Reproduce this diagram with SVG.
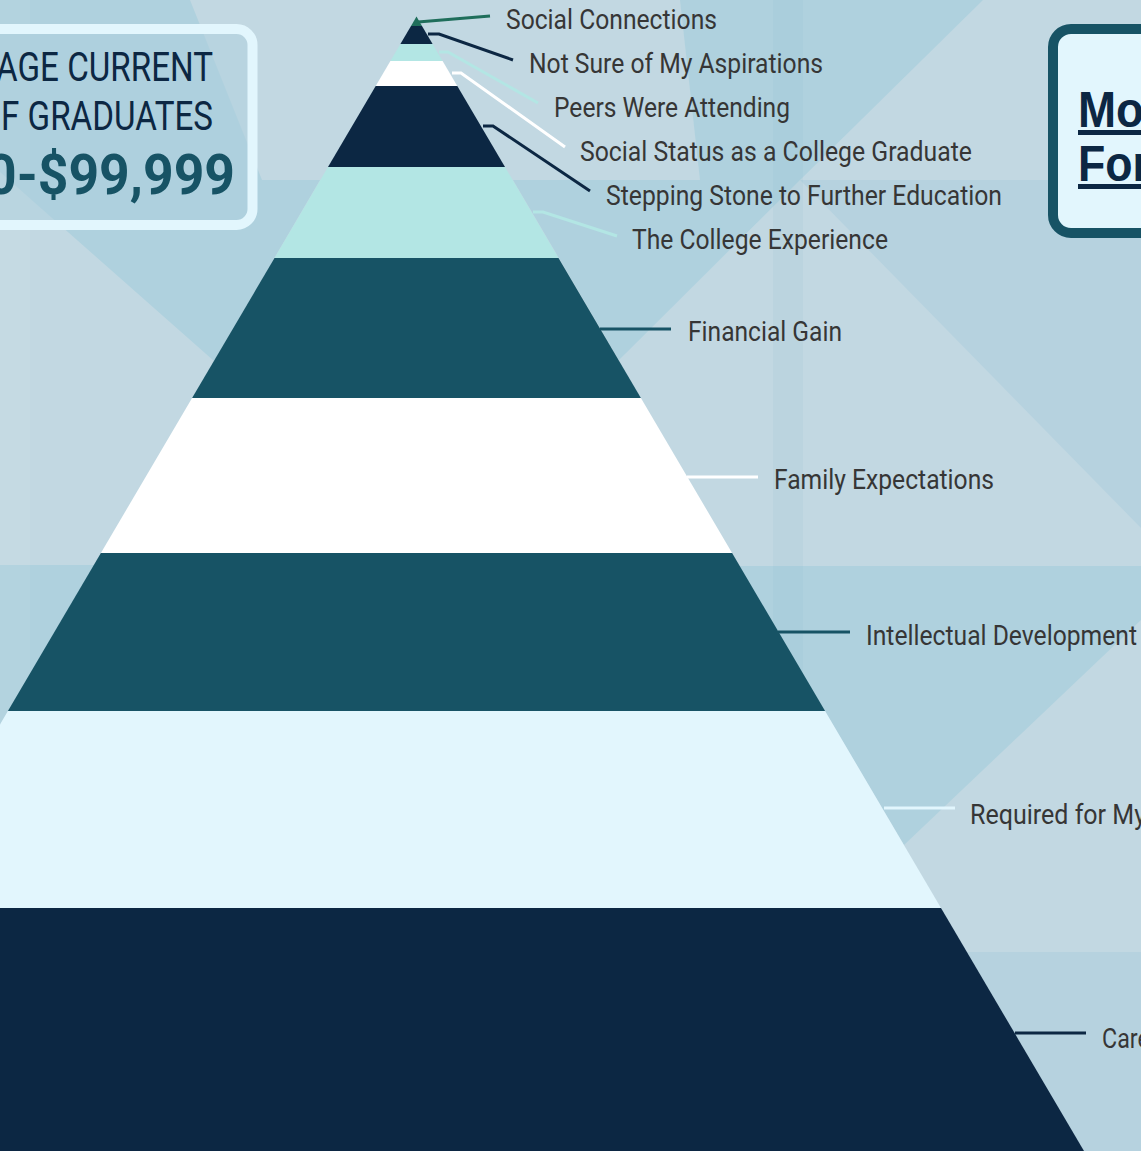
<svg xmlns="http://www.w3.org/2000/svg" width="1141" height="1151" viewBox="0 0 1141 1151">
  <style>
    .lbl { font-family: Roboto, "Liberation Sans", sans-serif; font-size: 27px; fill: #363636; }
    .lead { fill: none; stroke-width: 3; stroke-linejoin: miter; }
    .navy { fill: #0c2743; }
    .teal { fill: #175365; }
    .cyan { fill: #b3e6e4; }
    .white { fill: #ffffff; }
    .pale { fill: #e2f6fd; }
    .green { fill: #1f6e5b; }
    .bgA { fill: #afd1de; }
    .bgB { fill: #b6d2df; }
    .hdr { font-family: Roboto, "Liberation Sans", sans-serif; font-size: 40px; fill: #0c2743; }
    .num { font-family: Roboto, "Liberation Sans", sans-serif; font-size: 55px; font-weight: bold; fill: #175365; }
    .ttl { font-family: "Liberation Sans", Arial, sans-serif; font-size: 50px; font-weight: bold; fill: #0c2743; text-decoration: underline; }
  </style>

  <!-- low-poly backdrop -->
  <g id="background">
    <rect x="0" y="0" width="1141" height="1151" fill="#c2d8e2"/>
    <polygon class="bgA" points="0,0 190,0 262,180 320,180 214,361 0,172"/>
    <polygon class="bgA" points="0,565 95,565 0,725"/>
    <polygon class="bgA" points="680,0 983,0 800,180 700,180"/>
    <polygon class="bgA" points="513,180 800,180 619,360"/>
    <polygon class="bgB" points="800,180 1141,180 1141,528"/>
    <polygon class="bgA" points="739,566 1141,566 1141,620 904,845"/>
    <polygon class="bgB" points="967,952 1141,952 1141,1151 1084,1151"/>
    <rect x="773" y="0" width="30" height="1151" fill="#8fbccd" fill-opacity="0.12"/>
    <rect x="0" y="0" width="30" height="1151" fill="#ffffff" fill-opacity="0.06"/>
  </g>

  <!-- salary panel -->
  <g id="salary-panel">
    <rect x="-20" y="29" width="272.5" height="196" rx="16" fill="#aecfdd" fill-opacity="0.5" stroke="#e2f6fd" stroke-width="10"/>
    <text class="hdr" x="-4" y="81" textLength="217" lengthAdjust="spacingAndGlyphs">AGE CURRENT</text>
    <text class="hdr" x="1" y="130" textLength="212" lengthAdjust="spacingAndGlyphs">F GRADUATES</text>
    <text class="num" x="-14" y="194" textLength="249" lengthAdjust="spacingAndGlyphs">0-$99,999</text>
  </g>

  <!-- title panel -->
  <g id="title-panel">
    <rect x="1053" y="29" width="200" height="204" rx="18" fill="#e2f6fd" stroke="#175365" stroke-width="10"/>
    <text class="ttl" x="1078" y="127" textLength="66" lengthAdjust="spacingAndGlyphs">Mo</text>
    <text class="ttl" x="1078" y="181" textLength="72" lengthAdjust="spacingAndGlyphs">For</text>
  </g>

  <!-- pyramid tiers, top to bottom -->
  <g id="tier-social-connections">
    <polygon class="green" points="416.5,16.6 422,26 411,26"/>
    <text class="lbl" x="506" y="29" textLength="211" lengthAdjust="spacingAndGlyphs">Social Connections</text>
  </g>
  <g id="tier-not-sure">
    <polygon class="navy" points="411,26 422,26 432.6,44 400.4,44"/>
    <text class="lbl" x="529" y="73" textLength="294" lengthAdjust="spacingAndGlyphs">Not Sure of My Aspirations</text>
  </g>
  <g id="tier-peers">
    <polygon class="cyan" points="400.4,44 432.6,44 442.6,61 390.4,61"/>
    <text class="lbl" x="554" y="117" textLength="236" lengthAdjust="spacingAndGlyphs">Peers Were Attending</text>
  </g>
  <g id="tier-social-status">
    <polygon class="white" points="390.4,61 442.6,61 457.3,86 375.7,86"/>
    <text class="lbl" x="580" y="161" textLength="392" lengthAdjust="spacingAndGlyphs">Social Status as a College Graduate</text>
  </g>
  <g id="tier-stepping-stone">
    <polygon class="navy" points="375.7,86 457.3,86 505,167 328,167"/>
    <text class="lbl" x="606" y="205" textLength="396" lengthAdjust="spacingAndGlyphs">Stepping Stone to Further Education</text>
  </g>
  <g id="tier-college-experience">
    <polygon class="cyan" points="328,167 505,167 558.5,258 274.5,258"/>
    <text class="lbl" x="632" y="249" textLength="256" lengthAdjust="spacingAndGlyphs">The College Experience</text>
  </g>
  <g id="tier-financial-gain">
    <polygon class="teal" points="274.5,258 558.5,258 640.9,398 192.1,398"/>
    <text class="lbl" x="688" y="341" textLength="154" lengthAdjust="spacingAndGlyphs">Financial Gain</text>
  </g>
  <g id="tier-family-expectations">
    <polygon class="white" points="192.1,398 640.9,398 732.1,553 100.9,553"/>
    <text class="lbl" x="774" y="489" textLength="220" lengthAdjust="spacingAndGlyphs">Family Expectations</text>
  </g>
  <g id="tier-intellectual-development">
    <polygon class="teal" points="100.9,553 732.1,553 825.1,711 7.9,711"/>
    <text class="lbl" x="866" y="645" textLength="271" lengthAdjust="spacingAndGlyphs">Intellectual Development</text>
  </g>
  <g id="tier-required">
    <polygon class="pale" points="7.9,711 825.1,711 941,908 -108,908"/>
    <text class="lbl" x="970" y="824" textLength="176" lengthAdjust="spacingAndGlyphs">Required for My</text>
  </g>
  <g id="tier-career">
    <polygon class="navy" points="-108,908 941,908 1084,1151 -251,1151"/>
    <text class="lbl" x="1102" y="1048" textLength="68" lengthAdjust="spacingAndGlyphs">Career</text>
  </g>

  <!-- leader lines from tiers to labels -->
  <g id="connectors">
    <polyline class="lead" stroke="#1f6e5b" points="418,22 490,16"/>
    <polyline class="lead" stroke="#0c2743" points="428,34 439,34 513,60"/>
    <polyline class="lead" stroke="#b3e6e4" points="439,52 448,52 538,103"/>
    <polyline class="lead" stroke="#ffffff" points="452,73 461,73 565,147"/>
    <polyline class="lead" stroke="#0c2743" points="483,126 493,126 590,191"/>
    <polyline class="lead" stroke="#b3e6e4" points="533,212 543,212 617,236"/>
    <polyline class="lead" stroke="#175365" points="600,329 671,329"/>
    <polyline class="lead" stroke="#ffffff" points="687,477 758,477"/>
    <polyline class="lead" stroke="#175365" points="778,632 850,632"/>
    <polyline class="lead" stroke="#e2f6fd" points="884,808 955,808"/>
    <polyline class="lead" stroke="#0c2743" points="1015,1033 1086,1033"/>
  </g>
</svg>
